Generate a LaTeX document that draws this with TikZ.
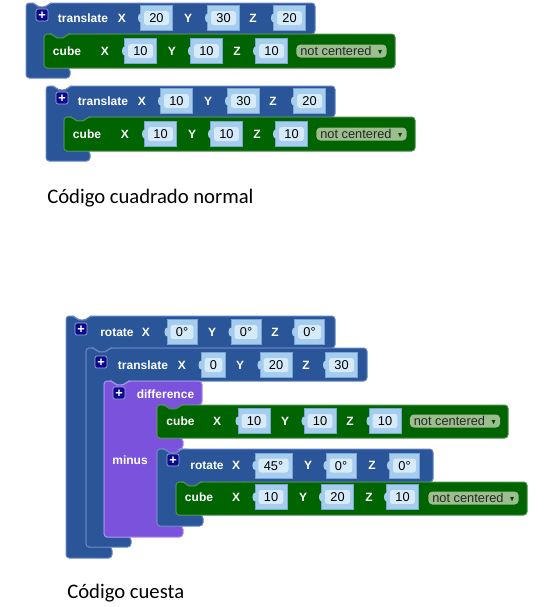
\documentclass[tikz,border=0pt]{standalone}
\usepackage{amssymb}
\usepackage{fontspec}
\newfontfamily\blockfont{Liberation Sans}
\newfontfamily\capfont{Carlito}

\definecolor{blkblue}{RGB}{42,85,153}
\definecolor{blkblueedge}{RGB}{100,132,192}
\definecolor{blkgreen}{RGB}{0,100,0}
\definecolor{blkgreenedge}{RGB}{72,140,72}
\definecolor{blkpurple}{RGB}{122,82,220}
\definecolor{blkpurpleedge}{RGB}{168,144,236}
\definecolor{slotc}{RGB}{166,204,238}
\definecolor{slotedge}{RGB}{122,166,212}
\definecolor{fieldc}{RGB}{214,235,250}
\definecolor{menuc}{RGB}{156,190,142}
\definecolor{plusc}{RGB}{10,10,140}

\newcommand{\blk}{\blockfont\fontsize{9.6pt}{11pt}\selectfont}
\newcommand{\blkb}{\blockfont\bfseries\fontsize{9pt}{11pt}\selectfont}
% C-shaped block: style, x0, y0, header right, header bottom, inner left, inner bottom, bottom, arm right
\newcommand{\cblock}[9]{\draw[#1] (#2,#8) -- (#2,#3) -- ({#2+8},#3) -- ({#2+12},{#3+4})
  -- ({#2+20},{#3+4}) -- ({#2+24},#3) -- (#4,#3) -- (#4,#5) -- ({#6+24},#5)
  -- ({#6+20},{#5+4}) -- ({#6+12},{#5+4}) -- ({#6+8},#5) -- (#6,#5) -- (#6,#7)
  -- (#9,#7) -- (#9,#8) -- cycle;}
% plain statement block: style, x0, y0, x1, y1
\newcommand{\sblock}[5]{\draw[#1] (#2,#5) -- (#2,#3) -- ({#2+8},#3) -- ({#2+12},{#3+4})
  -- ({#2+20},{#3+4}) -- ({#2+24},#3) -- (#4,#3) -- (#4,#5) -- cycle;}
% number input: name, x, y, value
\newcommand{\slotbox}[4]{\node[slot] (#1) at (#2,#3) {\phantom{#4}};
  \fill[slotc] (#1.west) ellipse (2.5 and 4.5);
  \node[field] (#1v) at (#1) {#4};}
\newcommand{\menubox}[3]{\node[menu] (#1) at (#2,#3) {not centered\hspace{4.5pt}%
  \raisebox{1pt}{\textcolor{blkgreen!70!black}{\scalebox{0.55}{$\blacktriangledown$}}}};}

\begin{document}
\begin{tikzpicture}[x=0.75pt, y=-0.75pt,
    blue/.style={fill=blkblue, draw=blkblueedge, line width=0.75pt, rounded corners=2.5pt},
    green/.style={fill=blkgreen, draw=blkgreenedge, line width=0.75pt, rounded corners=2.5pt},
    purple/.style={fill=blkpurple, draw=blkpurpleedge, line width=0.75pt, rounded corners=2.5pt},
    lbl/.style={text=white, font=\blkb, inner sep=0pt, text height=6.6pt, text depth=0pt},
    slot/.style={fill=slotc, draw=slotedge, line width=0.4pt, font=\blk, inner xsep=6.5pt,
                 inner ysep=0pt, text height=7pt, text depth=0pt, minimum height=19pt},
    field/.style={fill=fieldc, rounded corners=2pt, font=\blk, text=black, inner xsep=4pt,
                  inner ysep=0pt, text height=7pt, text depth=0pt, minimum height=10.5pt},
    menu/.style={fill=menuc, rounded corners=3pt, font=\blk, text=black!85, inner xsep=3pt,
                 inner ysep=0pt, text height=7pt, text depth=0pt, minimum height=9.75pt},
    plus/.style={fill=plusc, draw=white!65!plusc, line width=0.5pt, rounded corners=1.5pt,
                 minimum size=9pt, inner sep=0pt, text=white, font=\blk\bfseries,
                 text height=6.6pt, text depth=0pt},
    note/.style={font=\capfont\fontsize{15.5pt}{18pt}\selectfont, inner sep=0pt, anchor=base west}]
  \useasboundingbox (0,0) rectangle (545,607);

  % translate + cube, twice
  \foreach \g/\dx/\dy/\vx in {a/0/0/20, b/20/83/10}{
    \begin{scope}[shift={(\dx,\dy)}]
      \cblock{blue}{26}{3}{315}{34}{44}{68}{78}{70}
      \sblock{green}{44}{34}{395}{68}
      \node[plus] (\g-add) at (42,15) {+};
      \node[lbl] (\g-tr) at (83,18) {translate};
      \node[lbl] (\g-trx) at (122,18) {X};
      \slotbox{\g-tvx}{156.5}{18}{\vx}
      \node[lbl] (\g-try) at (188,18) {Y};
      \slotbox{\g-tvy}{223.5}{18}{30}
      \node[lbl] (\g-trz) at (253,18) {Z};
      \slotbox{\g-tvz}{289.5}{18}{20}
      \node[lbl] (\g-cube) at (67,51) {cube};
      \node[lbl] (\g-cx) at (105,51) {X};
      \slotbox{\g-cvx}{140.5}{51}{10}
      \node[lbl] (\g-cy) at (172,51) {Y};
      \slotbox{\g-cvy}{206.5}{51}{10}
      \node[lbl] (\g-cz) at (237,51) {Z};
      \slotbox{\g-cvz}{271.5}{51}{10}
      \menubox{\g-ctr}{341.5}{51}
    \end{scope}
  }
  \node[note] (cap1) at (47,203) {Código cuadrado normal};

  % rotate > translate > difference
  \cblock{blue}{66}{316}{335}{348}{86}{547}{558}{112}
  \cblock{blue}{86}{348}{367}{381}{104}{537}{547}{131}
  \draw[purple] (104,537) -- (104,381) -- (112,381) -- (116,385) -- (124,385) -- (128,381)
    -- (202,381) -- (202,405) -- (181,405) -- (177,409) -- (169,409) -- (165,405) -- (157,405)
    -- (157,438) -- (183,438) -- (183,449) -- (181,449) -- (177,453) -- (169,453) -- (165,449)
    -- (157,449) -- (157,526) -- (183,526) -- (183,537) -- cycle;
  \sblock{green}{157}{405}{508}{438}
  \cblock{blue}{157}{449}{433}{482}{176}{515}{526}{203}
  \sblock{green}{176}{482}{527}{515}

  \node[plus] (rot-add) at (81,329) {+};
  \node[lbl] (rot) at (117,332) {rotate};
  \node[lbl] (rot-x) at (146,332) {X};
  \slotbox{rot-vx}{182}{332}{0°}
  \node[lbl] (rot-y) at (212,332) {Y};
  \slotbox{rot-vy}{246}{332}{0°}
  \node[lbl] (rot-z) at (275,332) {Z};
  \slotbox{rot-vz}{309.5}{332}{0°}

  \node[plus] (tr-add) at (101,362) {+};
  \node[lbl] (tr) at (143,365) {translate};
  \node[lbl] (tr-x) at (182,365) {X};
  \slotbox{tr-vx}{213.5}{365}{0}
  \node[lbl] (tr-y) at (240,365) {Y};
  \slotbox{tr-vy}{276}{365}{20}
  \node[lbl] (tr-z) at (306,365) {Z};
  \slotbox{tr-vz}{341.5}{365}{30}

  \node[plus] (dif-add) at (119,393) {+};
  \node[lbl] (dif) at (165.5,394) {difference};
  \node[lbl] (dif-minus) at (130,460) {minus};

  \node[lbl] (cu) at (180.5,421) {cube};
  \node[lbl] (cu-x) at (217,421) {X};
  \slotbox{cu-vx}{254}{421}{10}
  \node[lbl] (cu-y) at (285,421) {Y};
  \slotbox{cu-vy}{320}{421}{10}
  \node[lbl] (cu-z) at (350,421) {Z};
  \slotbox{cu-vz}{385}{421}{10}
  \menubox{cu-ctr}{455}{421}

  \node[plus] (rot2-add) at (173,460) {+};
  \node[lbl] (rot2) at (207,465.5) {rotate};
  \node[lbl] (rot2-x) at (236,465.5) {X};
  \slotbox{rot2-vx}{273.5}{465.5}{45°}
  \node[lbl] (rot2-y) at (308,465.5) {Y};
  \slotbox{rot2-vy}{341}{465.5}{0°}
  \node[lbl] (rot2-z) at (372,465.5) {Z};
  \slotbox{rot2-vz}{404.5}{465.5}{0°}

  \node[lbl] (cu2) at (199,497) {cube};
  \node[lbl] (cu2-x) at (236,497) {X};
  \slotbox{cu2-vx}{271}{497}{10}
  \node[lbl] (cu2-y) at (303,497) {Y};
  \slotbox{cu2-vy}{337.5}{497}{20}
  \node[lbl] (cu2-z) at (369,497) {Z};
  \slotbox{cu2-vz}{402.5}{497}{10}
  \menubox{cu2-ctr}{473.5}{498}
  \node[note] (cap2) at (67,598) {Código cuesta};
\end{tikzpicture}
\end{document}
